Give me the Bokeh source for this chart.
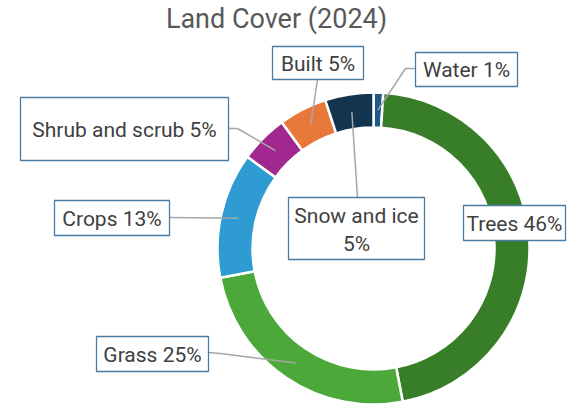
import numpy as np
from bokeh.plotting import figure
from bokeh.models import Range1d
from bokeh.core.properties import value
from bokeh.embed import file_html
from bokeh.resources import INLINE

# ---- data ----
categories = ["Water", "Trees", "Grass", "Crops", "Shrub and scrub", "Built", "Snow and ice"]
shares = [1, 46, 25, 13, 5, 5, 5]
colors = ["#1E5A87", "#387D28", "#4CA839", "#2E9BD3", "#A0288F", "#E8783A", "#12344E"]
title_text = "Land Cover (2024)"

W, H = 577, 406


def py(y):
    return H - y


p = figure(width=W, height=H, output_backend="svg", toolbar_location=None,
           x_range=Range1d(0, W), y_range=Range1d(0, H),
           min_border=0)
p.axis.visible = False
p.grid.visible = False
p.outline_line_color = None
p.background_fill_color = "white"
p.border_fill_color = "white"

cx, cy = 373, py(248)
r_out, r_in = 156, 121

vals = np.array(shares, dtype=float)
frac = vals / vals.sum()
cum = np.concatenate([[0], np.cumsum(frac)])
start = np.pi / 2 - 2 * np.pi * cum[:-1]
end = np.pi / 2 - 2 * np.pi * cum[1:]

p.annular_wedge(x=cx, y=cy, inner_radius=r_in, outer_radius=r_out,
                start_angle=start, end_angle=end, direction="clock",
                fill_color=colors, line_color="white", line_width=2.5)

# anchor points on slices (mid-angle, mid-ring)
mid = 2 * np.pi * (cum[:-1] + cum[1:]) / 2
r_mid = (r_in + r_out) / 2
ax = cx + r_mid * np.sin(mid)
ay = cy + r_mid * np.cos(mid)

# label boxes (page coords: x0, x1, y0, y1) and leader start points
boxes = {
    "Water": (415, 517, 52, 86),
    "Trees": (463, 565, 205, 240),
    "Grass": (96, 208, 336, 371),
    "Crops": (54, 169, 200, 235),
    "Shrub and scrub": (20, 228, 97, 160),
    "Built": (272, 363, 46, 79),
    "Snow and ice": (288, 424, 197, 259),
}
leader_start = {
    "Water": [(415, 68), (405, 68)],
    "Grass": [(208, 352), (220, 353)],
    "Crops": [(169, 217)],
    "Shrub and scrub": [(228, 128), (237, 128)],
    "Built": [(317, 79)],
    "Snow and ice": [(357, 197)],
}

xs, ys = [], []
for i, c in enumerate(categories):
    if c in leader_start:
        pts = leader_start[c]
        xs.append([q[0] for q in pts] + [ax[i]])
        ys.append([py(q[1]) for q in pts] + [ay[i]])
p.multi_line(xs=xs, ys=ys, line_color="#A6A6A6", line_width=1.5)

bx0 = [boxes[c][0] for c in categories]
bx1 = [boxes[c][1] for c in categories]
by0 = [py(boxes[c][3]) for c in categories]
by1 = [py(boxes[c][2]) for c in categories]
p.quad(left=bx0, right=bx1, bottom=by0, top=by1, fill_color="white",
       line_color="#4A7BA3", line_width=1.3)

font = value("Roboto")
for i, c in enumerate(categories):
    x0, x1, y0, y1 = boxes[c]
    pct = f"{shares[i]}%"
    if c == "Snow and ice":
        p.text(x=[(x0 + x1) / 2] * 2, y=[py(215), py(243)], text=[c, pct],
               text_font=font, text_font_size="21px", text_color="#404040",
               text_align="center", text_baseline="middle")
    else:
        p.text(x=[(x0 + x1) / 2], y=[py((y0 + y1) / 2 + 0.5)], text=[f"{c} {pct}"],
               text_font=font, text_font_size="21px", text_color="#404040",
               text_align="center", text_baseline="middle")

p.text(x=[276], y=[py(18)], text=[title_text], text_font=font,
       text_font_size="27px", text_color="#595959",
       text_align="center", text_baseline="middle")

open("out.html", "w").write(file_html(p, INLINE))
